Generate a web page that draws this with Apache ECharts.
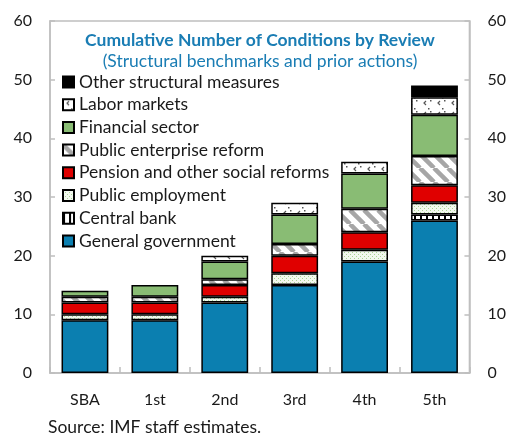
<!DOCTYPE html>
<html>
<head>
<meta charset="utf-8">
<script src="https://cdn.jsdelivr.net/npm/echarts@6/dist/echarts.min.js"></script>
<style>
  html, body { margin: 0; padding: 0; background: #fff; }
  #chart { width: 509px; height: 434px; }
</style>
</head>
<body>
<div id="chart"></div>
<script>
// Review stages
const categories = ['SBA', '1st', '2nd', '3rd', '4th', '5th'];

// Cumulative number of conditions per area, by review
const generalGovernment = [9, 9, 12, 15, 19, 26];
const centralBank       = [0, 0, 0, 0, 0, 1];
const publicEmployment  = [1, 1, 1, 2, 2, 2];
const pensionSocial     = [2, 2, 2, 3, 3, 3];
const publicEnterprise  = [1, 1, 1, 2, 4, 5];
const financialSector   = [1, 2, 3, 5, 6, 7];
const laborMarkets      = [0, 0, 1, 2, 2, 3];
const otherStructural   = [0, 0, 0, 0, 0, 2];

const yTicks = [0, 10, 20, 30, 40, 50, 60];

const FONT = 'Lato, "Open Sans", sans-serif';
const TEXT = '#1a1a1a';
const AXIS = '#bfbfbf';

// --- fill patterns ---
function makePattern(w, h, draw) {
  const c = document.createElement('canvas');
  c.width = w; c.height = h;
  const ctx = c.getContext('2d');
  draw(ctx, w, h);
  return { image: c, repeat: 'repeat' };
}

const stripesCentral = makePattern(6, 6, (ctx) => {
  ctx.fillStyle = '#ffffff'; ctx.fillRect(0, 0, 6, 6);
  ctx.fillStyle = '#000000'; ctx.fillRect(0, 0, 2, 6);
});

const dotsEmployment = makePattern(4, 4, (ctx) => {
  ctx.fillStyle = '#f2f8ee'; ctx.fillRect(0, 0, 4, 4);
  ctx.fillStyle = '#a9d393';
  ctx.fillRect(0, 0, 1, 1);
  ctx.fillRect(2, 2, 1, 1);
});

const diagEnterprise = makePattern(14, 14, (ctx) => {
  ctx.fillStyle = '#ffffff'; ctx.fillRect(0, 0, 14, 14);
  ctx.strokeStyle = '#a6a6a6';
  ctx.lineWidth = 4.5;
  for (let k = -14; k <= 28; k += 14) {
    ctx.beginPath();
    ctx.moveTo(k, 0);
    ctx.lineTo(k + 14, 14);
    ctx.stroke();
  }
});

const marksLabor = makePattern(14, 11, (ctx) => {
  ctx.fillStyle = '#ffffff'; ctx.fillRect(0, 0, 14, 11);
  ctx.strokeStyle = '#555555';
  ctx.lineWidth = 1.2;
  ctx.beginPath();
  ctx.moveTo(6, 2); ctx.lineTo(4, 4); ctx.lineTo(6, 6);
  ctx.stroke();
  ctx.fillStyle = '#555555';
  ctx.fillRect(10, 1, 1.5, 1.5);
  ctx.fillRect(8, 9, 1.5, 1.5);
});

// --- series, bottom to top ---
const layers = [
  { name: 'General government', data: generalGovernment, color: '#0b7fb0' },
  { name: 'Central bank', data: centralBank, color: stripesCentral },
  { name: 'Public employment', data: publicEmployment, color: dotsEmployment },
  { name: 'Pension and other social reforms', data: pensionSocial, color: '#e00000' },
  { name: 'Public enterprise reform', data: publicEnterprise, color: diagEnterprise },
  { name: 'Financial sector', data: financialSector, color: '#89bc74' },
  { name: 'Labor markets', data: laborMarkets, color: marksLabor },
  { name: 'Other structural measures', data: otherStructural, color: '#000000' }
];

const series = layers.map(l => ({
  name: l.name,
  type: 'bar',
  stack: 'total',
  barCategoryGap: '33%',
  data: l.data.map(v => (v === 0 ? '-' : v)),
  itemStyle: { color: l.color, borderColor: '#000', borderWidth: 1.5 },
  emphasis: { disabled: true }
}));

const yAxisBase = {
  type: 'value',
  min: yTicks[0],
  max: yTicks[yTicks.length - 1],
  interval: 10,
  axisLine: { show: true, lineStyle: { color: AXIS, width: 1.5 } },
  axisTick: { show: true, inside: true, length: 5, lineStyle: { color: AXIS, width: 1.5 } },
  splitLine: { show: false },
  axisLabel: { color: TEXT, fontSize: 16, fontFamily: FONT, margin: 18 }
};

const chart = echarts.init(document.getElementById('chart'), null, { renderer: 'canvas' });
chart.setOption({
  animation: false,
  backgroundColor: '#ffffff',
  title: {
    text: 'Cumulative Number of Conditions by Review',
    subtext: '(Structural benchmarks and prior actions)',
    left: 260,
    top: 31,
    padding: 0,
    textAlign: 'center',
    itemGap: 3,
    textStyle: { color: '#1a7db4', fontSize: 17.5, fontWeight: 'bold', fontFamily: FONT },
    subtextStyle: { color: '#1a7db4', fontSize: 17.5, fontFamily: FONT }
  },
  legend: {
    orient: 'vertical',
    left: 62,
    top: 73,
    padding: 0,
    itemWidth: 11,
    itemHeight: 11,
    itemGap: 4.7,
    icon: 'rect',
    data: layers.slice().reverse().map(l => l.name),
    textStyle: { color: TEXT, fontSize: 17.5, fontFamily: FONT, lineHeight: 18 },
    selectedMode: false
  },
  grid: {
    left: 50, right: 36, top: 21, bottom: 61,
    show: true, borderColor: AXIS, borderWidth: 1.5, backgroundColor: 'transparent'
  },
  xAxis: {
    type: 'category',
    data: categories,
    axisLine: { show: true, lineStyle: { color: AXIS, width: 1.5 } },
    axisTick: { show: true, inside: true, length: 6, lineStyle: { color: AXIS, width: 1.5 } },
    axisLabel: { color: TEXT, fontSize: 16, fontFamily: FONT, margin: 19 }
  },
  yAxis: [
    Object.assign({}, yAxisBase, { position: 'left' }),
    Object.assign({}, yAxisBase, { position: 'right' })
  ],
  series: series,
  graphic: [{
    type: 'text',
    left: 48,
    top: 418,
    style: { text: 'Source: IMF staff estimates.', fill: TEXT, font: '17.5px ' + FONT }
  }]
});
</script>
</body>
</html>
